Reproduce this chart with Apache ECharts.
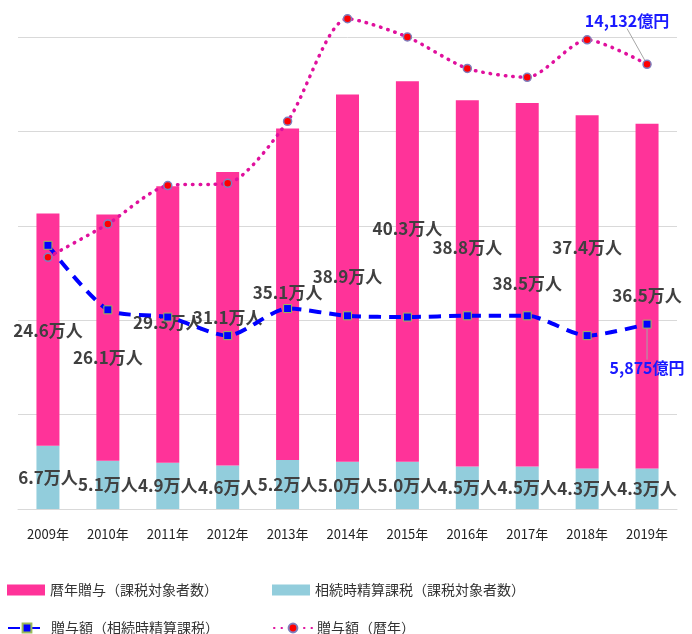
<!DOCTYPE html>
<html><head><meta charset="utf-8">
<script src="https://cdn.jsdelivr.net/npm/echarts@6/dist/echarts.min.js"></script>
<style>html,body{margin:0;padding:0;background:#fff}#c{width:692px;height:634px}</style>
</head><body><div id="c"></div>
<script>
// ---- data ----
const years = ['2009年','2010年','2011年','2012年','2013年','2014年','2015年','2016年','2017年','2018年','2019年'];
const rekinenPeople = [24.6,26.1,29.3,31.1,35.1,38.9,40.3,38.8,38.5,37.4,36.5];   // 万人
const seisanPeople  = [6.7,5.1,4.9,4.6,5.2,5.0,5.0,4.5,4.5,4.3,4.3];               // 万人
const seisanAmount  = [8380,6330,6100,5510,6370,6140,6100,6140,6140,5510,5875];    // 億円
const rekinenAmount = [8000,9060,10280,10350,12320,15580,15000,14000,13720,14910,14132]; // 億円
const names = ['暦年贈与（課税対象者数）','相続時精算課税（課税対象者数）','贈与額（相続時精算課税）','贈与額（暦年）'];
const endLabels = ['14,132億円','5,875億円'];

// ---- layout (label vertical offsets inside pink bars, px from bar top) ----
const pinkLabelDy = [117,143,136,146,164,182,147,147,180,132,172];

const FONT = '"Noto Sans CJK JP","Noto Sans",sans-serif';
const labelStyle = {fontFamily: FONT, fontSize: 17, fontWeight: 'bold', color: '#404040'};
const last = years.length - 1;

const chart = echarts.init(document.getElementById('c'), null, {renderer: 'canvas'});
chart.setOption({
  animation: false,
  textStyle: {fontFamily: FONT},
  grid: {left: 18, right: 15, top: 37, bottom: 125},
  xAxis: {
    type: 'category', data: years,
    axisLine: {lineStyle: {color: '#d9d9d9', width: 1}},
    axisTick: {show: false},
    axisLabel: {fontSize: 13, color: '#222', margin: 19, fontFamily: FONT}
  },
  yAxis: [
    {type: 'value', min: 0, max: 50, interval: 10,
     axisLabel: {show: false}, axisLine: {show: false}, axisTick: {show: false},
     splitLine: {lineStyle: {color: '#d9d9d9', width: 1}}},
    {type: 'value', min: 0, max: 15000, interval: 3000,
     axisLabel: {show: false}, axisLine: {show: false}, axisTick: {show: false},
     splitLine: {show: false}}
  ],
  legend: [
    {left: 7, top: 583, padding: 0, itemWidth: 38, itemHeight: 11, itemGap: 54,
     textStyle: {fontSize: 14, color: '#333', fontFamily: FONT},
     data: [{name: names[0], icon: 'rect'}, {name: names[1], icon: 'rect'}]},
    {left: 7, top: 621, padding: 0, itemWidth: 38, itemHeight: 11, itemGap: 54,
     textStyle: {fontSize: 14, color: '#333', fontFamily: FONT},
     data: [names[2], names[3]]}
  ],
  series: [
    {
      name: names[1], type: 'bar', stack: 'p', barWidth: 23, yAxisIndex: 0,
      itemStyle: {color: '#92cddc'},
      label: Object.assign({show: true, position: 'inside', formatter: p => p.value.toFixed(1) + '万人'}, labelStyle),
      data: seisanPeople, z: 2
    },
    {
      name: names[0], type: 'bar', stack: 'p', barWidth: 23, yAxisIndex: 0,
      itemStyle: {color: '#ff3399'},
      data: rekinenPeople.map((v, i) => ({
        value: v,
        label: Object.assign({show: true, position: ['50%', pinkLabelDy[i]], align: 'center', verticalAlign: 'middle',
          formatter: p => p.value.toFixed(1) + '万人'}, labelStyle)
      })), z: 2
    },
    {
      name: names[2], type: 'line', yAxisIndex: 1, smooth: 0.25, z: 5,
      lineStyle: {color: '#0000ff', width: 4, type: [12, 8]},
      itemStyle: {color: '#0000ff', borderColor: '#9bbb59', borderWidth: 1},
      symbol: 'rect', symbolSize: 8,
      labelLayout: {dx: 0, dy: 26},
      labelLine: {show: true, lineStyle: {color: '#a6a6a6', width: 1}},
      data: seisanAmount.map((v, i) => i === last ? {
        value: v,
        label: {show: true, position: 'bottom', formatter: endLabels[1], color: '#1a1aff', fontSize: 16, fontWeight: 'bold', fontFamily: FONT}
      } : v)
    },
    {
      name: names[3], type: 'line', yAxisIndex: 1, smooth: 0.25, z: 5, clip: false,
      lineStyle: {color: '#e0109d', width: 3.5, type: [0.5, 7], cap: 'round'},
      itemStyle: {color: '#ff0000', borderColor: '#7f7fbf', borderWidth: 1.5},
      symbol: 'circle', symbolSize: 8,
      labelLayout: {dx: -20, dy: -26},
      labelLine: {show: true, lineStyle: {color: '#a6a6a6', width: 1}},
      data: rekinenAmount.map((v, i) => i === last ? {
        value: v,
        label: {show: true, position: 'top', formatter: endLabels[0], color: '#1a1aff', fontSize: 16, fontWeight: 'bold', fontFamily: FONT}
      } : v)
    }
  ]
});
</script></body></html>
